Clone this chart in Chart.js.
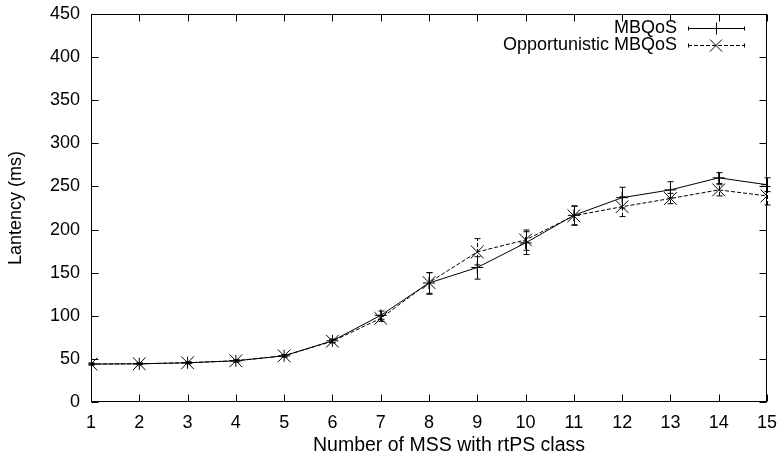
<!DOCTYPE html>
<html>
<head>
<meta charset="utf-8">
<script src="https://cdn.jsdelivr.net/npm/chart.js@4.4.1/dist/chart.umd.min.js"></script>
<style>
  html, body { margin: 0; padding: 0; background: #fff; }
  #wrap { width: 784px; height: 464px; }
</style>
</head>
<body>
<div id="wrap"><canvas id="latencyChart"></canvas></div>
<script>
const mssCount = [1, 2, 3, 4, 5, 6, 7, 8, 9, 10, 11, 12, 13, 14, 15];

const mbqos   = [44, 44.3, 45.5, 47.8, 53.6, 71, 100.5, 138, 156, 184.5, 216.5, 237, 246, 260, 252];
const mbqosLo = [43, 43.3, 44.5, 46.5, 52, 69, 96, 125, 142.5, 171, 205.5, 225, 236.5, 253.5, 244];
const mbqosHi = [45, 45.3, 46.5, 49, 55, 73, 105.5, 150, 168.5, 197.5, 227.5, 249, 255.5, 266, 260];

const oppMbqos   = [44, 44.3, 45.5, 47.8, 53.6, 70.5, 97, 138.5, 174, 188, 216, 226.5, 236, 246, 239];
const oppMbqosLo = [43, 43.3, 44.5, 46.5, 52.5, 68.5, 93.5, 126, 159, 176, 205, 215, 230, 239, 228.5];
const oppMbqosHi = [45, 45.3, 46.5, 49, 55, 72.5, 100.5, 150, 189.5, 199.5, 227, 238, 242, 252, 250];

const seriesNames = ['MBQoS', 'Opportunistic MBQoS'];
const yTicks = [0, 50, 100, 150, 200, 250, 300, 350, 400, 450];
const xTitle = 'Number of MSS with rtPS class';

const FONT = "'Liberation Sans', Arial, sans-serif";
const DASH = [4, 2];

const toPoints = ys => mssCount.map((x, i) => ({ x, y: ys[i] }));

// error bars drawn through the scales
const errorBars = {
    id: 'errorBars',
    afterDatasetsDraw(chart) {
        const { ctx, scales: { x, y } } = chart;
        const ranges = [[mbqosLo, mbqosHi], [oppMbqosLo, oppMbqosHi]];
        ctx.save();
        ctx.strokeStyle = '#000';
        ctx.lineWidth = 1;
        ranges.forEach(([lo, hi], d) => {
            mssCount.forEach((v, i) => {
                const px = Math.round(x.getPixelForValue(v)) + 0.5;
                const y0 = y.getPixelForValue(lo[i]);
                const y1 = y.getPixelForValue(hi[i]);
                ctx.setLineDash(d === 1 ? DASH : []);
                ctx.beginPath();
                ctx.moveTo(px, y0); ctx.lineTo(px, y1);
                ctx.stroke();
                ctx.setLineDash([]);
                ctx.beginPath();
                ctx.moveTo(px - 3, y0); ctx.lineTo(px + 3, y0);
                ctx.moveTo(px - 3, y1); ctx.lineTo(px + 3, y1);
                ctx.stroke();
            });
        });
        ctx.restore();
    }
};

// gnuplot style frame with inward ticks, key and x label
const frame = {
    id: 'frame',
    beforeDatasetsDraw(chart) {
        const { ctx, chartArea: a, scales: { x, y } } = chart;
        const L = Math.round(a.left) + 0.5, R = Math.round(a.right) - 0.5;
        const T = Math.round(a.top) + 0.5, B = Math.round(a.bottom) - 0.5;
        ctx.save();
        ctx.strokeStyle = '#000';
        ctx.lineWidth = 1;
        ctx.strokeRect(L, T, R - L, B - T);
        ctx.beginPath();
        mssCount.forEach(v => {
            const px = Math.round(x.getPixelForValue(v)) + 0.5;
            ctx.moveTo(px, B); ctx.lineTo(px, B - 7);
            ctx.moveTo(px, T); ctx.lineTo(px, T + 7);
        });
        yTicks.forEach(v => {
            const py = Math.round(y.getPixelForValue(v)) + 0.5;
            ctx.moveTo(L, py); ctx.lineTo(L + 7, py);
            ctx.moveTo(R, py); ctx.lineTo(R - 7, py);
        });
        ctx.stroke();
        ctx.restore();
    },
    afterDraw(chart) {
        const { ctx } = chart;
        const rows = [28.5, 45.5];
        ctx.save();
        ctx.fillStyle = '#000';
        ctx.strokeStyle = '#000';
        ctx.lineWidth = 1;
        ctx.textBaseline = 'middle';

        ctx.font = `19.5px ${FONT}`;
        ctx.textAlign = 'center';
        ctx.fillText(xTitle, 449, 446);

        ctx.font = `18px ${FONT}`;
        ctx.textAlign = 'right';
        seriesNames.forEach((name, i) => {
            const yy = rows[i];
            ctx.fillText(name, 677, yy);
            ctx.setLineDash(i === 1 ? DASH : []);
            ctx.beginPath();
            ctx.moveTo(688, yy); ctx.lineTo(745, yy);
            ctx.stroke();
            ctx.setLineDash([]);
            ctx.beginPath();
            ctx.moveTo(688.5, yy - 2); ctx.lineTo(688.5, yy + 2);
            ctx.moveTo(744.5, yy - 2); ctx.lineTo(744.5, yy + 2);
            if (i === 0) {
                ctx.moveTo(716.5, yy - 6); ctx.lineTo(716.5, yy + 6);
                ctx.moveTo(710.5, yy); ctx.lineTo(722.5, yy);
            } else {
                ctx.moveTo(710, yy - 6); ctx.lineTo(722, yy + 6);
                ctx.moveTo(710, yy + 6); ctx.lineTo(722, yy - 6);
            }
            ctx.stroke();
        });
        ctx.restore();
    }
};

new Chart(document.getElementById('latencyChart'), {
    type: 'line',
    data: {
        datasets: [{
            label: seriesNames[0],
            data: toPoints(mbqos),
            borderColor: '#000',
            borderWidth: 1,
            pointStyle: 'cross',
            pointRadius: 6,
            pointBorderColor: '#000',
            pointBorderWidth: 1,
            tension: 0
        }, {
            label: seriesNames[1],
            data: toPoints(oppMbqos),
            borderColor: '#000',
            borderWidth: 1,
            borderDash: DASH,
            pointStyle: 'crossRot',
            pointRadius: 9,
            pointBorderColor: '#000',
            pointBorderWidth: 1,
            tension: 0
        }]
    },
    options: {
        responsive: true,
        maintainAspectRatio: false,
        animation: false,
        events: [],
        layout: { padding: { left: 0, right: 17, top: 14, bottom: 0 } },
        plugins: {
            legend: { display: false },
            tooltip: { enabled: false }
        },
        scales: {
            x: {
                type: 'linear',
                min: 1, max: 15,
                afterFit: s => { s.height = 62; },
                grid: { display: false },
                border: { display: false },
                ticks: {
                    stepSize: 1,
                    color: '#000',
                    padding: 2,
                    font: { family: FONT, size: 18 }
                }
            },
            y: {
                min: 0, max: 450,
                afterFit: s => { s.width = 91; },
                afterBuildTicks: s => { s.ticks = yTicks.map(value => ({ value })); },
                grid: { display: false },
                border: { display: false },
                ticks: {
                    color: '#000',
                    padding: 3,
                    font: { family: FONT, size: 18 }
                },
                title: {
                    display: true,
                    text: 'Lantency (ms)',
                    color: '#000',
                    padding: { top: 5, bottom: 0 },
                    font: { family: FONT, size: 18 }
                }
            }
        }
    },
    plugins: [frame, errorBars]
});
</script>
</body>
</html>
